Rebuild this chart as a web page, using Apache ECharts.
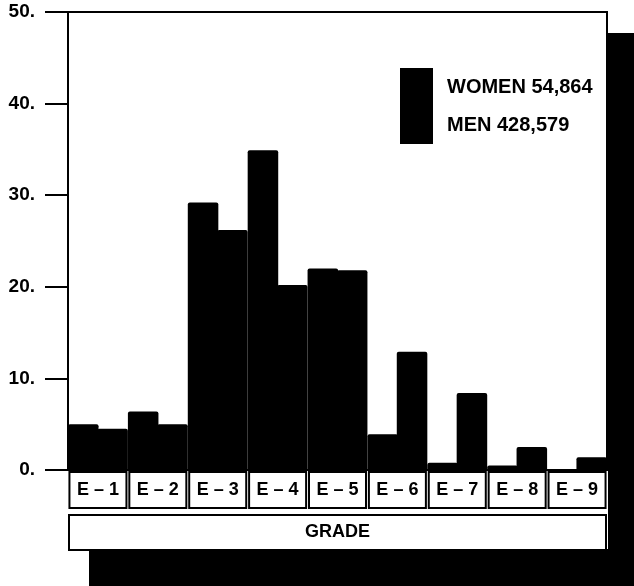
<!DOCTYPE html>
<html>
<head>
<meta charset="utf-8">
<title>Enlisted grade distribution</title>
<script src="https://cdn.jsdelivr.net/npm/echarts@6/dist/echarts.min.js"></script>
<style>
    html, body { margin: 0; padding: 0; background: #fff; }
    #gradeBar { width: 634px; height: 586px; }
</style>
</head>
<body>
<div id="gradeBar"></div>
<script>
// 数据 (percent of each group)
var grades = ['E-1', 'E-2', 'E-3', 'E-4', 'E-5', 'E-6', 'E-7', 'E-8', 'E-9'];
var women = [5.0, 6.4, 29.2, 34.9, 22.0, 3.9, 0.8, 0.5, 0.1];
var men = [4.5, 5.0, 26.2, 20.2, 21.8, 12.9, 8.4, 2.5, 1.4];
var groupNames = ['WOMEN', 'MEN'];
var groupTotals = [54864, 428579];
var yTicks = [0, 10, 20, 30, 40, 50];

var FONT = '"Liberation Sans", Arial, sans-serif';

/**
 * @description 页面初始化
 */
window.onload = function () {
    loadGradeBar();
};

/**
 * @description 各等级男女百分比
 */
function loadGradeBar() {
    var myChart = echarts.init(document.getElementById('gradeBar'), null, {renderer: 'canvas'});
    // bars overlap a little so no white seam shows between neighbours
    var barStyle = {color: '#000', borderRadius: [2, 2, 0, 0]};
    var option = {
        animation: false,
        backgroundColor: '#fff',
        grid: {
            left: 68,
            right: 27,
            top: 12,
            bottom: 116,
            show: true,
            borderColor: '#000',
            borderWidth: 2,
            backgroundColor: '#fff'
        },
        legend: {
            data: groupNames,
            left: 400,
            top: 68,
            padding: 0,
            orient: 'vertical',
            icon: 'rect',
            itemWidth: 33,
            itemHeight: 38,
            itemGap: 0,
            selectedMode: false,
            formatter: function (name) {
                var i = groupNames.indexOf(name);
                return name + ' ' + groupTotals[i].toLocaleString('en-US');
            },
            textStyle: {
                fontFamily: FONT,
                fontWeight: 'bold',
                fontSize: 20,
                color: '#000',
                padding: [0, 0, 0, 9]
            }
        },
        xAxis: {
            type: 'category',
            data: grades,
            name: '{g|GRADE}',
            nameLocation: 'middle',
            nameGap: 43,
            nameTextStyle: {
                rich: {
                    g: {
                        fontFamily: FONT,
                        fontWeight: 'bold',
                        fontSize: 18,
                        color: '#000',
                        width: 535,
                        height: 33,
                        lineHeight: 33,
                        borderColor: '#000',
                        borderWidth: 2,
                        backgroundColor: '#fff',
                        align: 'center'
                    }
                }
            },
            axisLine: {lineStyle: {color: '#000', width: 2}},
            axisTick: {show: false},
            splitLine: {show: false},
            axisLabel: {
                interval: 0,
                margin: 3,
                fontFamily: FONT,
                fontWeight: 'bold',
                fontSize: 18,
                color: '#000',
                width: 55,
                height: 34,
                lineHeight: 34,
                borderColor: '#000',
                borderWidth: 2,
                backgroundColor: '#fff',
                align: 'center',
                formatter: function (v) {
                    return v.replace('-', ' \u2013 ');
                }
            }
        },
        yAxis: {
            type: 'value',
            min: yTicks[0],
            max: yTicks[yTicks.length - 1],
            interval: 10,
            axisLine: {show: true, lineStyle: {color: '#000', width: 2}},
            axisTick: {show: true, inside: false, length: 23, lineStyle: {color: '#000', width: 2}},
            splitLine: {show: false},
            axisLabel: {
                margin: 33,
                fontFamily: FONT,
                fontWeight: 'bold',
                fontSize: 19,
                color: '#000',
                formatter: '{value}.'
            }
        },
        series: [{
            name: groupNames[0],
            type: 'bar',
            data: women,
            barWidth: '51%',
            barGap: '-4%',
            itemStyle: barStyle,
            emphasis: {disabled: true}
        }, {
            name: groupNames[1],
            type: 'bar',
            data: men,
            barWidth: '51%',
            barGap: '-4%',
            itemStyle: barStyle,
            emphasis: {disabled: true}
        }],
        // 扫描件的黑色阴影
        graphic: [{
            type: 'rect',
            z: -10,
            shape: {x: 608, y: 33, width: 26, height: 553},
            style: {fill: '#000'}
        }, {
            type: 'rect',
            z: -10,
            shape: {x: 89, y: 549, width: 545, height: 37},
            style: {fill: '#000'}
        }]
    };
    myChart.setOption(option, true);
    window.addEventListener('resize', function () {
        myChart.resize();
    });
}
</script>
</body>
</html>
